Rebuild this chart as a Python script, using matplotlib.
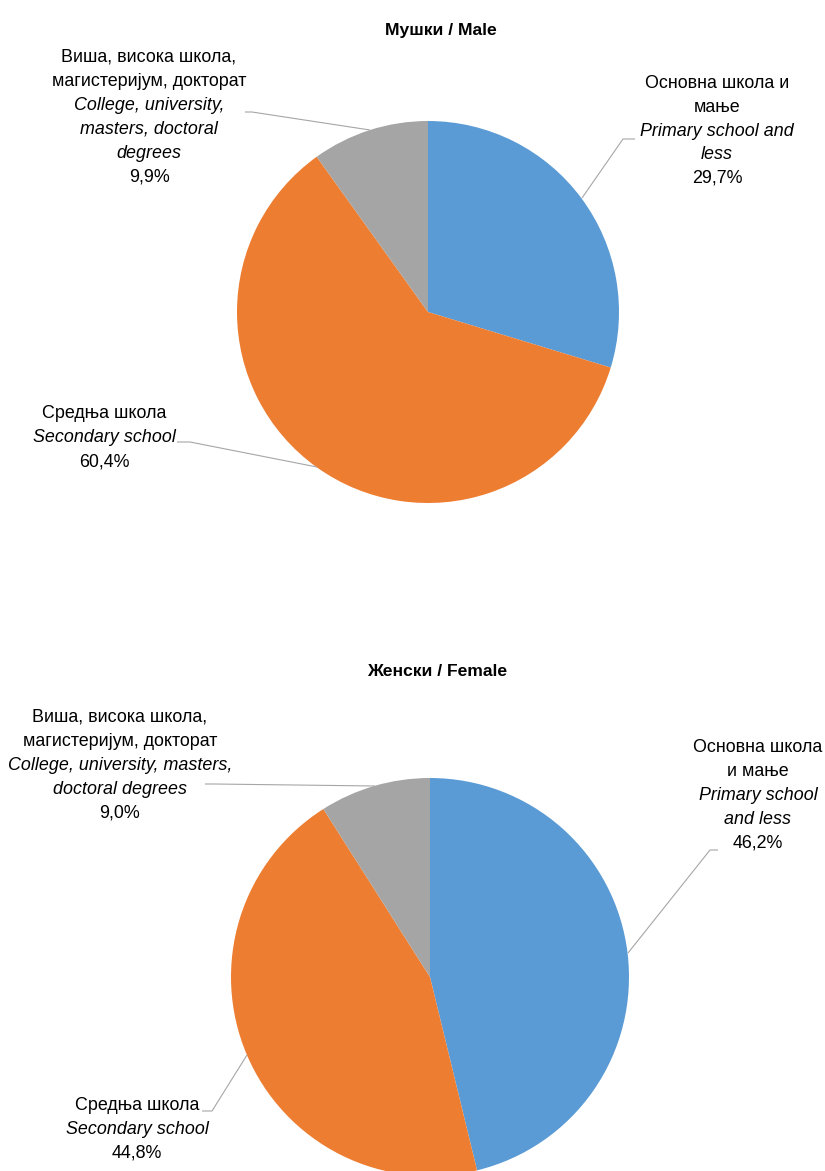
import matplotlib
matplotlib.use("Agg")
import matplotlib.pyplot as plt
from matplotlib import font_manager

names = {f.name for f in font_manager.fontManager.ttflist}
FAM = ['Liberation Sans Narrow', 'Liberation Sans', 'DejaVu Sans'] if 'Liberation Sans Narrow' in names else ['Liberation Sans', 'DejaVu Sans']
plt.rcParams['font.family'] = FAM

# ---- data ----
categories = ["Primary", "Secondary", "Higher"]
male_values = [29.7, 60.4, 9.9]
female_values = [46.2, 44.8, 9.0]
male_labels = ["29,7%", "60,4%", "9,9%"]
female_labels = ["46,2%", "44,8%", "9,0%"]
titles = ["Мушки / Male", "Женски / Female"]
colors = ["#5B9BD5", "#ED7D31", "#A5A5A5"]

W, H = 825, 1171
fig = plt.figure(figsize=(W / 100, H / 100), dpi=100)
ax = fig.add_axes([0, 0, 1, 1])
ax.set_xlim(0, W)
ax.set_ylim(0, H)
ax.set_aspect('equal')
ax.axis('off')

def Y(y):
    return H - y

ax.pie(male_values, colors=colors, startangle=90, counterclock=False,
       center=(428, Y(312)), radius=191, wedgeprops=dict(linewidth=0))
ax.pie(female_values, colors=colors, startangle=90, counterclock=False,
       center=(430, Y(977)), radius=199, wedgeprops=dict(linewidth=0))
ax.set_xlim(0, W)
ax.set_ylim(0, H)

FS = 12.9
def block(x, y0, lines, step=24):
    for i, (txt, it) in enumerate(lines):
        ax.text(x, Y(y0 + i * step), txt, ha='center', va='center', fontsize=FS,
                style='italic' if it else 'normal', color='black')

def leader(pts):
    xs = [p[0] for p in pts]
    ys = [Y(p[1]) for p in pts]
    ax.plot(xs, ys, color='#A6A6A6', lw=0.8, solid_capstyle='butt')

# titles
ax.text(441, Y(30), titles[0], ha='center', va='center', fontsize=12.6, fontweight='bold')
ax.text(437, Y(672), titles[1], ha='center', va='center', fontsize=12.6, fontweight='bold')

# top chart labels
block(149, 57, [("Виша, висока школа,", False), ("магистеријум, докторат", False),
                ("College, university,", True), ("masters, doctoral", True),
                ("degrees", True), (male_labels[2], False)])
block(717, 84, [("Основна школа и", False), ("мање", False),
                ("Primary school and", True), ("less", True), (male_labels[0], False)], step=23.5)
block(104, 413, [("Средња школа", False), ("Secondary school", True), (male_labels[1], False)], step=24.5)

leader([(245, 112), (252, 112), (370, 130)])
leader([(635, 139), (623, 139), (582, 198)])
leader([(177, 442), (190, 442), (317, 467)])

# bottom chart labels
block(120, 717, [("Виша, висока школа,", False), ("магистеријум, докторат", False),
                 ("College, university, masters,", True), ("doctoral degrees", True),
                 (female_labels[2], False)])
block(758, 747, [("Основна школа", False), ("и мање", False), ("Primary school", True),
                 ("and less", True), (female_labels[0], False)])
block(137, 1105, [("Средња школа", False), ("Secondary school", True), (female_labels[1], False)])

leader([(205, 784), (214, 784), (375, 786)])
leader([(718, 850), (710, 850), (628, 953)])
leader([(202, 1111), (212, 1111), (247, 1055)])

fig.savefig("out.png", dpi=100)
